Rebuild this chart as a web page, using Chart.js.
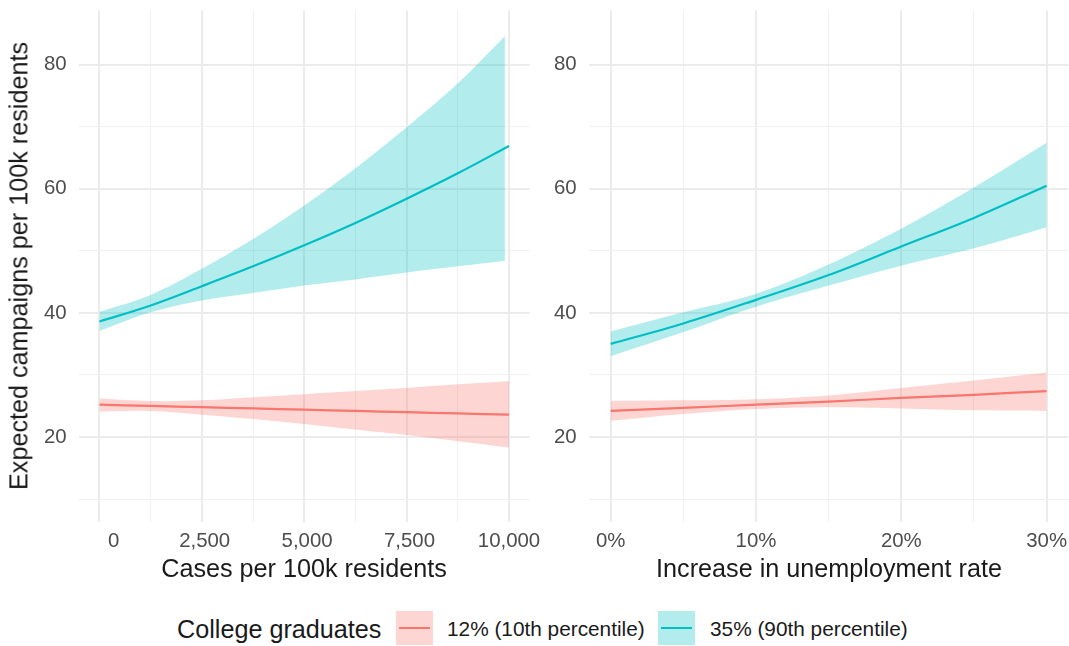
<!DOCTYPE html>
<html><head><meta charset="utf-8">
<script src="https://cdn.jsdelivr.net/npm/chart.js@4.4.1/dist/chart.umd.min.js"></script>
<style>
html,body{margin:0;padding:0;background:#fff;}
body{width:1069px;height:646px;position:relative;overflow:hidden;font-family:"Liberation Sans",Arial,Helvetica,sans-serif;}
canvas{position:absolute;top:0;}
#c1{left:0;}
#c2{left:545px;}
.t{position:absolute;white-space:nowrap;color:#1a1a1a;font-size:25.2px;line-height:25.2px;}
.l{position:absolute;white-space:nowrap;color:#1a1a1a;font-size:20.8px;line-height:20.8px;}
.key{position:absolute;width:37px;height:34px;top:611px;}
.key i{position:absolute;left:3px;right:3px;top:16px;height:2px;}
</style></head><body>
<canvas id="c1" width="545" height="600"></canvas>
<canvas id="c2" width="524" height="600"></canvas>

<div class="t" style="left:304px;top:556px;transform:translateX(-50%);">Cases per 100k residents</div>
<div class="t" style="left:829px;top:556px;transform:translateX(-50%);">Increase in unemployment rate</div>
<div class="t" style="left:19px;top:266px;transform:translate(-50%,-50%) rotate(-90deg);">Expected campaigns per 100k residents</div>

<div class="t" style="left:177px;top:617px;">College graduates</div>
<div class="key" style="left:396px;background:rgba(248,118,109,0.3);"><i style="background:#F8766D"></i></div>
<div class="l" style="left:447px;top:618.5px;" id="lab1"></div>
<div class="key" style="left:658px;background:rgba(0,191,196,0.3);"><i style="background:#00BFC4"></i></div>
<div class="l" style="left:710px;top:618.5px;" id="lab2"></div>

<script>
// ---- data ----
const groupLabels = ['12% (10th percentile)', '35% (90th percentile)'];
const groupColors = ['#F8766D', '#00BFC4'];
const groupFills = ['rgba(248,118,109,0.3)', 'rgba(0,191,196,0.3)'];

// Left panel: cases per 100k residents
const casesX = [0, 1250, 2500, 3750, 5000, 6250, 7500, 8750, 10000];
const casesBlueRibbonX = [0, 1250, 2500, 3750, 5000, 6250, 7500, 8750, 9900];
const casesLowLine  = [25.2, 25.0, 24.8, 24.6, 24.4, 24.2, 24.0, 23.8, 23.6];
const casesLowUpper = [26.2, 25.8, 25.9, 26.4, 26.9, 27.4, 27.9, 28.5, 29.0];
const casesLowLower = [24.1, 24.2, 23.6, 22.9, 22.1, 21.2, 20.3, 19.3, 18.3];
const casesHighLine  = [38.6, 41.2, 44.3, 47.5, 50.9, 54.5, 58.4, 62.5, 66.9];
const casesHighUpper = [40.2, 42.9, 47.1, 51.9, 57.3, 63.3, 69.9, 77.0, 84.6];
const casesHighLower = [37.1, 40.1, 42.0, 43.2, 44.4, 45.4, 46.5, 47.5, 48.4];

// Right panel: increase in unemployment rate (%)
const unempX = [0, 5, 10, 15, 20, 25, 30];
const unempLowLine  = [24.2, 24.7, 25.2, 25.7, 26.3, 26.8, 27.4];
const unempLowUpper = [25.8, 25.9, 26.1, 26.7, 27.9, 29.1, 30.4];
const unempLowLower = [22.6, 23.7, 24.5, 24.8, 24.6, 24.3, 24.2];
const unempHighLine  = [35.0, 38.3, 42.1, 46.1, 50.7, 55.3, 60.5];
const unempHighUpper = [37.0, 40.1, 43.1, 47.8, 53.6, 60.2, 67.4];
const unempHighLower = [33.0, 36.9, 41.0, 44.4, 47.6, 50.4, 53.8];

// ticks
const yTicks = [10, 20, 30, 40, 50, 60, 70, 80];
const yTickLabels = ['', '20', '', '40', '', '60', '', '80'];
const casesTicks = [0, 1250, 2500, 3750, 5000, 6250, 7500, 8750, 10000];
const casesTickLabels = ['     0', '', ' 2,500', '', ' 5,000', '', ' 7,500', '', '10,000'];
const unempTicks = [0, 5, 10, 15, 20, 25, 30];
const unempTickLabels = ['0%', '', '10%', '', '20%', '', '30%'];

document.getElementById('lab1').textContent = groupLabels[0];
document.getElementById('lab2').textContent = groupLabels[1];

// ---- helpers ----
const FONT = '"Liberation Sans", Arial, Helvetica, sans-serif';
const xy = (xs, ys) => xs.map((x, i) => ({x: x, y: ys[i]}));

function datasets(xLine, xRibLow, xRibHigh, lowL, lowU, lowLo, hiL, hiU, hiLo) {
  const rib = (data, fillTarget, bg) => ({
    data: data, borderWidth: 0, borderColor: 'transparent', pointRadius: 0,
    tension: 0.35, fill: fillTarget === null ? false : {target: fillTarget},
    backgroundColor: bg, order: 2
  });
  const line = (data, color) => ({
    data: data, borderWidth: 2.2, borderColor: color, pointRadius: 0,
    tension: 0.35, fill: false, order: 0
  });
  return [
    rib(xy(xRibLow, lowLo), null, 'transparent'),
    rib(xy(xRibLow, lowU), 0, groupFills[0]),
    rib(xy(xRibHigh, hiLo), null, 'transparent'),
    rib(xy(xRibHigh, hiU), 2, groupFills[1]),
    line(xy(xLine, lowL), groupColors[0]),
    line(xy(xLine, hiL), groupColors[1])
  ];
}

function gridOpts(majorSet) {
  return {
    drawTicks: false,
    color: (ctx) => majorSet(ctx) ? '#EBEBEB' : '#F0F0F0',
    lineWidth: (ctx) => majorSet(ctx) ? 2 : 1
  };
}

function noPad(s) { s.paddingTop = 0; s.paddingBottom = 0; s.paddingLeft = 0; s.paddingRight = 0; }

function makeChart(id, dsets, xMin, xMax, xTicks, xLabels, yWidth, padRight) {
  return new Chart(document.getElementById(id), {
    type: 'line',
    data: {datasets: dsets},
    options: {
      responsive: false, animation: false, devicePixelRatio: 1,
      layout: {padding: {top: 10.4, right: padRight, bottom: 0, left: 0}},
      plugins: {legend: {display: false}, tooltip: {enabled: false}},
      scales: {
        x: {
          type: 'linear', min: xMin, max: xMax,
          afterBuildTicks: (s) => { s.ticks = xTicks.map(v => ({value: v})); },
          afterFit: (s) => { s.height = 77.7; noPad(s); },
          ticks: {
            autoSkip: false, maxRotation: 0, minRotation: 0, padding: 7,
            color: '#4D4D4D', font: {size: 20.4, family: FONT},
            callback: (v, i) => xLabels[i]
          },
          grid: gridOpts((ctx) => ctx.tick && xLabels[xTicks.indexOf(ctx.tick.value)] !== ''),
          border: {display: false}
        },
        y: {
          type: 'linear', min: 6.25, max: 88.75,
          afterBuildTicks: (s) => { s.ticks = yTicks.map(v => ({value: v})); },
          afterFit: (s) => { s.width = yWidth; noPad(s); },
          ticks: {
            padding: 12.3, color: '#4D4D4D', font: {size: 20.4, family: FONT},
            callback: (v, i) => yTickLabels[i]
          },
          grid: gridOpts((ctx) => ctx.tick && yTickLabels[yTicks.indexOf(ctx.tick.value)] !== ''),
          border: {display: false}
        }
      }
    }
  });
}

makeChart('c1',
  datasets(casesX, casesX, casesBlueRibbonX, casesLowLine, casesLowUpper, casesLowLower,
           casesHighLine, casesHighUpper, casesHighLower),
  -500, 10500, casesTicks, casesTickLabels, 79, 15.5);

makeChart('c2',
  datasets(unempX, unempX, unempX, unempLowLine, unempLowUpper, unempLowLower,
           unempHighLine, unempHighUpper, unempHighLower),
  -1.5, 31.5, unempTicks, unempTickLabels, 43.9, 0.6);
</script>
</body></html>
